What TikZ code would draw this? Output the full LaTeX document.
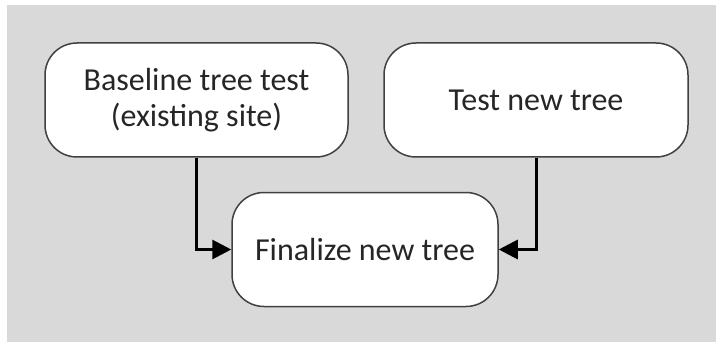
\documentclass[tikz,border=0pt]{standalone}
\usepackage{fontspec}
\setmainfont{Carlito}
\usetikzlibrary{arrows.meta, positioning}
\definecolor{panel}{RGB}{217,217,217}
\definecolor{edge}{RGB}{64,64,64}
\definecolor{ink}{RGB}{38,38,38}

\begin{document}
\begin{tikzpicture}[
    x=1pt, y=-1pt,
    stepbox/.style={draw=edge, line width=1.5pt, fill=white, rounded corners=32pt,
        minimum height=114pt, align=center, text=ink,
        font=\fontsize{32}{36}\selectfont},
    link/.style={-{Triangle[length=19pt, width=19pt]}, line width=3pt, black}
]

\useasboundingbox (0,0) rectangle (716,345);

% Fondo gris
\fill[panel] (7,5) rectangle (716,342);

% Cajas
\node[stepbox, minimum width=303pt] (baseline) at (196.5,100) {Baseline tree test\\(existing site)};
\node[stepbox, minimum width=304pt] (testnew) at (536,100) {Test new tree};
\node[stepbox, minimum width=266pt] (finalize) at (365,249.5) {Finalize new tree};

% Flechas
\draw[link] (baseline.south) |- (finalize.west);
\draw[link] (testnew.south) |- (finalize.east);

\end{tikzpicture}
\end{document}
